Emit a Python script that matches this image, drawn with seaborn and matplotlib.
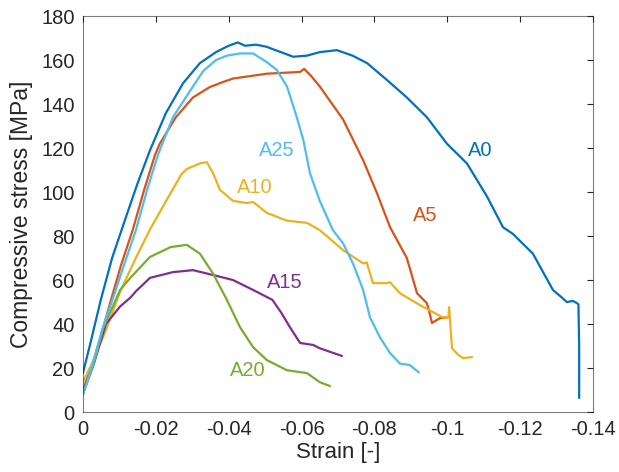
import pandas as pd
import matplotlib
matplotlib.use("Agg")
import matplotlib.pyplot as plt
import seaborn as sns

a0_strain = [0, -0.002, -0.0049, -0.008, -0.0118, -0.015, -0.0184, -0.0228, -0.0275, -0.0321,
             -0.0365, -0.04, -0.0425, -0.0445, -0.0475, -0.0505, -0.052, -0.0545, -0.0577,
             -0.0615, -0.065, -0.0697, -0.074, -0.078, -0.0834, -0.0889, -0.0944, -0.0999, -0.1054,
             -0.1109, -0.1153, -0.118, -0.1235, -0.129, -0.1315, -0.1328, -0.1345, -0.1356, -0.1360,
             -0.1362, -0.1362]
a0_stress = [17.7, 31, 51, 70, 88.6, 104, 119, 136, 149.5, 158.6,
             163.6, 166.5, 168, 166.5, 167, 166, 165, 163.5, 161.5,
             162, 163.6, 164.5, 162, 158.6, 151, 143, 134, 122, 113,
             98, 84, 81, 72, 55.5, 52, 50, 50.5, 49.5, 49,
             30, 6.4]

a5_strain = [0, -0.003, -0.0055, -0.0077, -0.0105, -0.0137, -0.0168, -0.0198, -0.0211, -0.0255,
             -0.0302, -0.0348, -0.0384, -0.0412, -0.0505, -0.0596, -0.0607, -0.0625, -0.065, -0.0714,
             -0.0769, -0.0807, -0.0843, -0.0889, -0.0917, -0.0944, -0.0950, -0.0958, -0.098, -0.0999]
a5_stress = [10, 24, 38, 51, 67, 83, 101, 117, 122, 134,
             143, 147.7, 150, 151.6, 153.8, 154.6, 156, 153, 148, 133,
             114.5, 99.5, 84, 70, 54, 49.5, 46, 40.5, 42.7, 43]

a10_strain = [0, -0.003, -0.006, -0.0104, -0.0145, -0.0184, -0.0225, -0.027, -0.0285, -0.0321,
              -0.034, -0.0357, -0.0376, -0.0412, -0.045, -0.0467, -0.0505, -0.056, -0.0615, -0.065,
              -0.0714, -0.0769, -0.0779, -0.0796, -0.0834, -0.0843, -0.087, -0.0925, -0.096, -0.0988,
              -0.1003, -0.1005, -0.1013, -0.103, -0.1043, -0.1068]
a10_stress = [13.6, 24, 36, 55.5, 70, 83, 95, 108, 110.5, 113,
              113.6, 108.6, 101, 96, 95, 95.5, 90.5, 87, 86, 82.7,
              73.6, 67.6, 68, 58.6, 58.6, 59, 54, 48.6, 45.5, 43,
              43, 47.7, 29, 26, 24.5, 25]

a15_strain = [0, -0.003, -0.0063, -0.0102, -0.013, -0.0146, -0.0184, -0.0247, -0.0302,
              -0.0357, -0.0412, -0.0467, -0.052, -0.0545, -0.0568, -0.0596, -0.0632, -0.065, -0.0711]
a15_stress = [9, 22, 40, 48, 52, 55, 61, 63.6, 64.5,
              62.3, 60, 55.5, 51, 45, 38.6, 31.4, 30.5, 29, 25.5]

a20_strain = [0, -0.003, -0.0055, -0.009, -0.0102, -0.013, -0.0184, -0.0241, -0.0285, -0.0321,
              -0.0357, -0.0395, -0.0431, -0.0467, -0.0505, -0.056, -0.0615, -0.065, -0.0678]
a20_stress = [8, 22, 38, 51, 55.5, 61, 70.5, 75, 76, 72,
              63, 51, 38.6, 29.5, 23.6, 19, 17.7, 13.6, 11.8]

a25_strain = [0, -0.0027, -0.0055, -0.0085, -0.0115, -0.0146, -0.0176, -0.0206, -0.0247, -0.0294,
              -0.033, -0.0365, -0.0395, -0.0431, -0.0467, -0.0505, -0.0532, -0.056, -0.0587, -0.0605,
              -0.0623, -0.065, -0.0686, -0.0714, -0.0741, -0.0769, -0.0788, -0.0815, -0.0843, -0.087,
              -0.0897, -0.0922]
a25_stress = [8, 22, 38.6, 53, 68, 83, 101, 117, 134, 146,
              155, 160, 162, 163, 163, 159, 155.5, 148, 134, 123.6,
              108.6, 96, 82.7, 76.7, 67.6, 55.5, 43, 34, 26.8, 22,
              21.4, 18]

names = ["A0", "A5", "A10", "A15", "A20", "A25"]
colors = ["#0072BD", "#D95319", "#EDB120", "#7E2F8E", "#77AC30", "#4DBEEE"]
label_strain = [-0.109, -0.0939, -0.0472, -0.0554, -0.0453, -0.0532]
label_stress = [119, 89.5, 102, 59, 19, 119]

curves = [(a0_strain, a0_stress), (a5_strain, a5_stress), (a10_strain, a10_stress),
          (a15_strain, a15_stress), (a20_strain, a20_stress), (a25_strain, a25_stress)]

frames = []
for name, (x, y) in zip(names, curves):
    frames.append(pd.DataFrame({"strain": x, "stress": y, "sample": name}))
df = pd.concat(frames, ignore_index=True)

sns.set_style("white")
plt.rcParams["font.family"] = ["Liberation Sans", "DejaVu Sans"]

fig = plt.figure(figsize=(6.19, 4.72), dpi=100)
ax = fig.add_axes([0.134, 0.127, 0.824, 0.839])

sns.lineplot(data=df, x="strain", y="stress", hue="sample", hue_order=names,
             palette=colors, sort=False, estimator=None, linewidth=1.6,
             legend=False, ax=ax)

for name, c, lx, ly in zip(names, colors, label_strain, label_stress):
    ax.text(lx, ly, name, color=c, fontsize=14.5, ha="center", va="center")

ax.set_xlim(0, -0.14)
ax.set_ylim(0, 180)
ax.set_xticks([0, -0.02, -0.04, -0.06, -0.08, -0.1, -0.12, -0.14])
ax.set_xticklabels(["0", "-0.02", "-0.04", "-0.06", "-0.08", "-0.1", "-0.12", "-0.14"])
ax.set_yticks(range(0, 181, 20))
ax.tick_params(direction="in", length=4, width=0.8, color="#262626",
               top=True, right=True, labelsize=14.5, labelcolor="#262626", pad=6)
for s in ax.spines.values():
    s.set_color("#262626")
    s.set_linewidth(0.8)
    s.set_alpha(0.6)
ax.set_xlabel("Strain [-]", fontsize=16, color="#262626", labelpad=2)
ax.set_ylabel("Compressive stress [MPa]", fontsize=16.5, color="#262626", labelpad=6)

fig.savefig("out.png", dpi=100)
